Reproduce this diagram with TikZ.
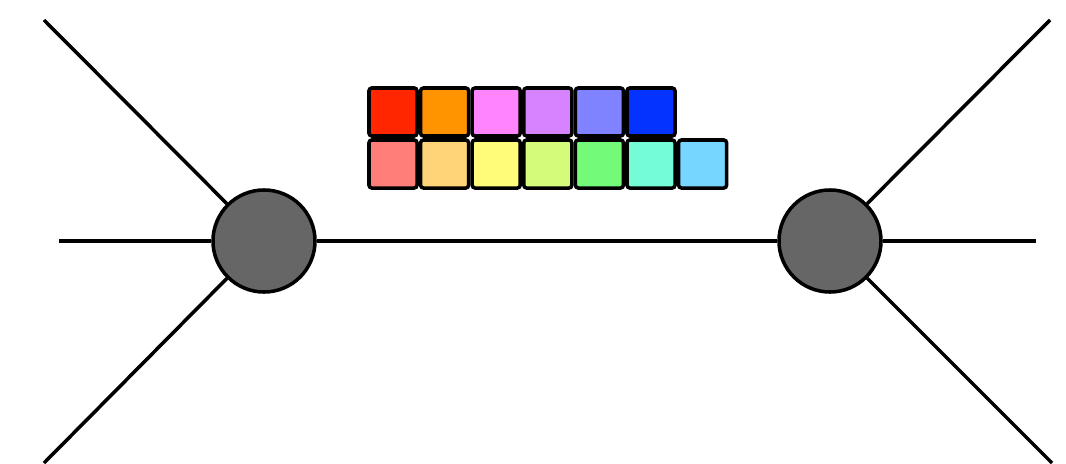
\documentclass[tikz,border=0pt]{standalone}
\usepackage{tikz}
\usetikzlibrary{positioning}
\definecolor{vtxgray}{RGB}{102,102,102}
\definecolor{cA}{RGB}{255,38,0}
\definecolor{cB}{RGB}{255,147,0}
\definecolor{cC}{RGB}{255,133,255}
\definecolor{cD}{RGB}{215,131,255}
\definecolor{cE}{RGB}{127,131,255}
\definecolor{cF}{RGB}{4,51,255}
\definecolor{dA}{RGB}{255,126,121}
\definecolor{dB}{RGB}{255,212,121}
\definecolor{dC}{RGB}{255,252,121}
\definecolor{dD}{RGB}{212,251,121}
\definecolor{dE}{RGB}{115,250,121}
\definecolor{dF}{RGB}{115,252,214}
\definecolor{dG}{RGB}{118,214,255}

\begin{document}
\begin{tikzpicture}[x=0.025cm, y=0.025cm,
      vtx/.style={draw, circle, fill=vtxgray, line width=2.5pt,
                  inner sep=0pt, minimum size=2.55cm},
      leg/.style={line width=2.5pt},
      cell/.style={draw, rounded corners=2pt, line width=2.5pt,
                   minimum size=1.2cm, inner sep=0pt}
    ]
    \useasboundingbox (0,0) rectangle (1066,463);

    % external legs
    \coordinate (ul) at (44,443);
    \coordinate (ml) at (59,222);
    \coordinate (dl) at (44,0);
    \coordinate (ur) at (1050,443);
    \coordinate (mr) at (1036,222);
    \coordinate (dr) at (1052,0);

    \node[vtx] (lv) at (264,222) {};
    \node[vtx] (rv) at (830,222) {};

    \draw[leg] (ul) -- (lv);
    \draw[leg] (ml) -- (lv);
    \draw[leg] (dl) -- (lv);
    \draw[leg] (ur) -- (rv);
    \draw[leg] (mr) -- (rv);
    \draw[leg] (dr) -- (rv);
    \draw[leg] (lv) -- (rv);

    % tableau
    \foreach \c [count=\i from 0] in {cA,cB,cC,cD,cE,cF}
      \node[cell, fill=\c] (top\i) at (393+51.6*\i,351) {};
    \foreach \c [count=\i from 0] in {dA,dB,dC,dD,dE,dF,dG}
      \node[cell, fill=\c] (bot\i) at (393+51.6*\i,299) {};
  \end{tikzpicture}
\end{document}
